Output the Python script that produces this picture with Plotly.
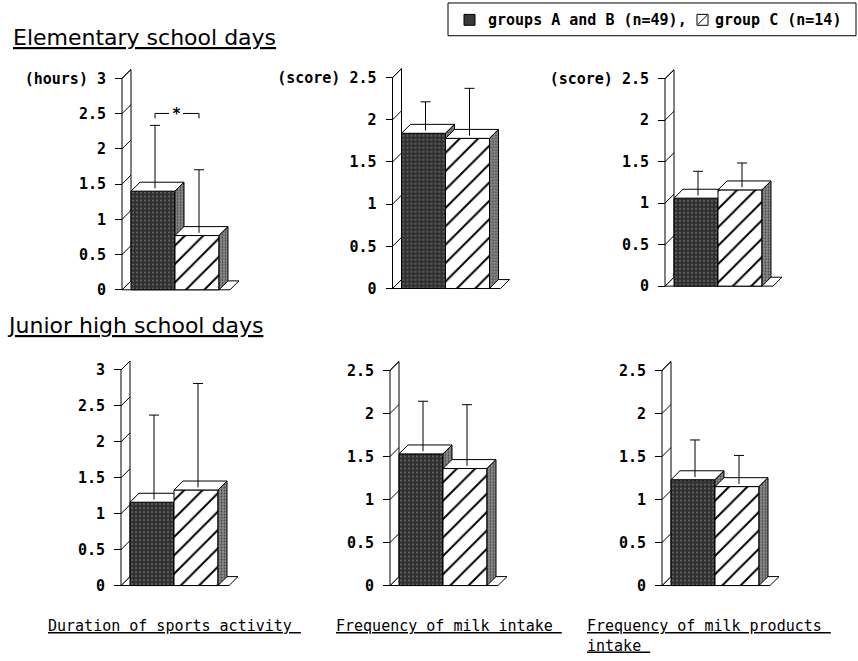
import numpy as np
import plotly.graph_objects as go

W, H = 858, 661

# ---------------------------------------------------------------- data
periods = ["Elementary school days", "Junior high school days"]
measures = ["Duration of sports activity", "Frequency of milk intake",
            "Frequency of milk products intake"]
units = ["(hours)", "(score)", "(score)"]
y_max = [3.0, 2.5, 2.5]
tick_step = 0.5

# groups A and B (n=49)
ab_mean_elem = [1.40, 1.84, 1.06]
ab_sd_elem = [0.87, 0.32, 0.27]
ab_mean_junior = [1.16, 1.53, 1.23]
ab_sd_junior = [1.15, 0.56, 0.41]

# group C (n=14)
c_mean_elem = [0.77, 1.78, 1.16]
c_sd_elem = [0.87, 0.54, 0.27]
c_mean_junior = [1.33, 1.36, 1.15]
c_sd_junior = [1.42, 0.69, 0.31]

# significant difference (*) : (period index, measure index)
significant = [(0, 0)]

legend_ab = "groups A and B (n=49),"
legend_c = "group C (n=14)"

# ---------------------------------------------------------------- layout geometry (pixels)
# front axis x, zero-line y, pixels per unit
frames = [
    [(122.0, 292.0, 71.0), (392.5, 290.7, 85.0), (665.0, 288.3, 83.6)],
    [(121.0, 590.0, 72.4), (390.0, 590.0, 86.7), (662.0, 590.0, 86.7)],
]
DEPTH = 9.0      # 3-D depth offset (px, both directions)
BAR_W = 44.0     # bar front width (px)
FLOOR_END = DEPTH + 2 * BAR_W + DEPTH + 2
X_LEFT, X_RIGHT = -3.0, 125.0

MONO = "DejaVu Sans Mono"
SANS = "DejaVu Sans"

DARK_PATTERN = dict(shape=".", bgcolor="#2e2e2e", fgcolor="#5a5a5a", size=4, solidity=0.3,
                    fgopacity=1)
SIDE_PATTERN = dict(shape=".", bgcolor="#8a8a8a", fgcolor="#454545", size=3, solidity=0.3,
                    fgopacity=1)
HATCH_PATTERN = dict(shape="/", bgcolor="white", fgcolor="black", size=13, solidity=0.15,
                     fgopacity=1)

fig = go.Figure()
layout = dict(
    width=W, height=H, margin=dict(l=0, r=0, t=0, b=0),
    paper_bgcolor="white", plot_bgcolor="rgba(0,0,0,0)",
    showlegend=False,
)


def poly(xs, ys, xa, ya, fillcolor="white", pattern=None):
    kw = dict(
        x=list(xs) + [xs[0]], y=list(ys) + [ys[0]],
        mode="lines", fill="toself", fillcolor=fillcolor,
        line=dict(color="black", width=1),
        xaxis=xa, yaxis=ya, hoverinfo="skip", showlegend=False,
    )
    if pattern is not None:
        kw["fillpattern"] = pattern
    return go.Scatter(**kw)


def segs(xs, ys, xa, ya, width=1):
    return go.Scatter(x=xs, y=ys, mode="lines", line=dict(color="black", width=width),
                      xaxis=xa, yaxis=ya, hoverinfo="skip", showlegend=False)


means = [[ab_mean_elem, c_mean_elem], [ab_mean_junior, c_mean_junior]]
sds = [[ab_sd_elem, c_sd_elem], [ab_sd_junior, c_sd_junior]]

idx = 0
for r in range(2):
    for c in range(3):
        idx += 1
        ax_px, zy_px, scale = frames[r][c]
        ymax = y_max[c]
        dy = DEPTH / scale
        xa = "x" if idx == 1 else f"x{idx}"
        ya = "y" if idx == 1 else f"y{idx}"
        xkey = "xaxis" if idx == 1 else f"xaxis{idx}"
        ykey = "yaxis" if idx == 1 else f"yaxis{idx}"

        bottom_px = zy_px + 4
        top_px = zy_px - scale * ymax - 16
        y_lo = -4 / scale
        y_hi = ymax + 16 / scale

        ticks = np.round(np.arange(0, ymax + 1e-9, tick_step), 2)
        ticktext = [f"{t:g}" for t in ticks]
        if r == 0:
            ticktext[-1] = f"{units[c]} {ticktext[-1]}"

        layout[xkey] = dict(domain=[(ax_px + X_LEFT) / W, (ax_px + X_RIGHT) / W],
                            range=[X_LEFT, X_RIGHT], visible=False, fixedrange=True,
                            anchor=ya)
        layout[ykey] = dict(domain=[1 - bottom_px / H, 1 - top_px / H],
                            range=[y_lo, y_hi], anchor="free", position=ax_px / W,
                            tickvals=list(ticks), ticktext=ticktext,
                            ticks="outside", ticklen=7, tickwidth=1, tickcolor="black",
                            ticklabelstandoff=6,
                            tickfont=dict(family=MONO, size=15, color="black", weight="bold"),
                            showline=False, showgrid=False, zeroline=False,
                            fixedrange=True)

        # floor and side wall
        fig.add_trace(poly([0, FLOOR_END, FLOOR_END + DEPTH, DEPTH], [0, 0, dy, dy], xa, ya))
        fig.add_trace(poly([0, DEPTH, DEPTH, 0], [0, dy, ymax + dy, ymax], xa, ya))
        wx, wy = [], []
        for t in ticks[1:]:
            wx += [0, DEPTH, None]
            wy += [t, t + dy, None]
        fig.add_trace(segs(wx, wy, xa, ya))

        # bars: groups A and B (dark) then group C (hatched)
        err_x = []
        for k in range(2):
            m = means[r][k][c]
            x0 = DEPTH + k * BAR_W
            x1 = x0 + BAR_W
            front_pat = DARK_PATTERN if k == 0 else HATCH_PATTERN
            fig.add_trace(poly([x0, x1, x1, x0], [0, 0, m, m], xa, ya, pattern=front_pat))
            fig.add_trace(poly([x0, x1, x1 + DEPTH, x0 + DEPTH], [m, m, m + dy, m + dy], xa, ya))
            fig.add_trace(poly([x1, x1 + DEPTH, x1 + DEPTH, x1], [0, dy, m + dy, m], xa, ya,
                               pattern=SIDE_PATTERN))
            err_x.append((x0 + x1) / 2 + 2)

        # error bars (mean + SD), drawn at mid depth
        ex, ey = [], []
        for k in range(2):
            m = means[r][k][c]
            s = sds[r][k][c]
            xc = err_x[k]
            top = m + s + dy / 2
            ex += [xc, xc, None, xc - 5, xc + 5, None]
            ey += [m + dy * 0.3, top, None, top, top, None]
        fig.add_trace(segs(ex, ey, xa, ya))

        # significance bracket
        if (r, c) in significant:
            tops = [means[r][k][c] + sds[r][k][c] + dy / 2 for k in range(2)]
            lvl = max(tops) + 12 / scale
            drop = 5 / scale
            mid = (err_x[0] + err_x[1]) / 2
            fig.add_trace(segs(
                [err_x[0], err_x[0], mid - 8, None, mid + 6, err_x[1], err_x[1]],
                [lvl - drop, lvl, lvl, None, lvl, lvl, lvl - drop], xa, ya))
            fig.add_annotation(x=mid - 1, y=lvl, xref=xa, yref=ya, text="*",
                               showarrow=False, yshift=-1,
                               font=dict(family=MONO, size=15, color="black", weight="bold"))

# section titles
title_pos = [(11, 38), (5, 328)]
for r in range(2):
    tx, ty = title_pos[r]
    fig.add_annotation(x=tx / W, y=1 - ty / H, xref="paper", yref="paper",
                       xanchor="left", yanchor="middle", showarrow=False,
                       text=f"<u>{periods[r]}</u>",
                       font=dict(family=SANS, size=22, color="black"))

# measure labels under each column
label_x = [46, 334, 585]
for c in range(3):
    words = measures[c].split()
    if c == 2:
        text = "<u>" + " ".join(words[:-1]) + " </u><br><u>" + words[-1] + " </u>"
    else:
        text = "<u>" + " ".join(words) + " </u>"
    fig.add_annotation(x=label_x[c] / W, y=1 - 620 / H, xref="paper", yref="paper",
                       xanchor="left", yanchor="top", align="left", showarrow=False,
                       text=text, font=dict(family=MONO, size=15, color="black"))

# legend box
shapes = [
    dict(type="rect", xref="paper", yref="paper", x0=448 / W, x1=856 / W,
         y0=1 - 36 / H, y1=1 - 3 / H, line=dict(color="black", width=1), fillcolor="white",
         layer="below"),
    dict(type="rect", xref="paper", yref="paper", x0=464 / W, x1=475 / W,
         y0=1 - 25.5 / H, y1=1 - 14.5 / H, line=dict(color="black", width=1),
         fillcolor="#3a3a3a"),
    dict(type="rect", xref="paper", yref="paper", x0=697 / W, x1=708 / W,
         y0=1 - 25.5 / H, y1=1 - 14.5 / H, line=dict(color="black", width=1),
         fillcolor="white"),
    dict(type="line", xref="paper", yref="paper", x0=698 / W, x1=707 / W,
         y0=1 - 24.5 / H, y1=1 - 15.5 / H, line=dict(color="black", width=1)),
]
layout["shapes"] = shapes
fig.add_annotation(x=486 / W, y=1 - 20 / H, xref="paper", yref="paper", xanchor="left",
                   yanchor="middle", showarrow=False, text=legend_ab,
                   font=dict(family=MONO, size=15, color="black", weight="bold"))
fig.add_annotation(x=713 / W, y=1 - 20 / H, xref="paper", yref="paper", xanchor="left",
                   yanchor="middle", showarrow=False, text=legend_c,
                   font=dict(family=MONO, size=15, color="black", weight="bold"))

fig.update_layout(**layout)
fig.write_html("out.html")
